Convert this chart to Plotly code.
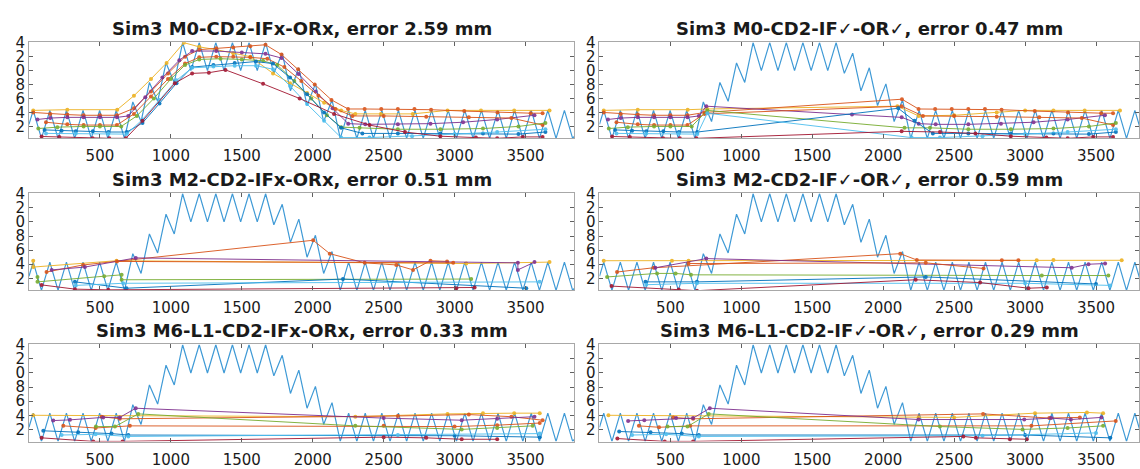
import plotly.graph_objects as go

# ---------------- data ----------------
TITLES = [
    "Sim3 M0-CD2-IFx-ORx, error 2.59 mm",
    "Sim3 M0-CD2-IF\u2713-OR\u2713, error 0.47 mm",
    "Sim3 M2-CD2-IFx-ORx, error 0.51 mm",
    "Sim3 M2-CD2-IF\u2713-OR\u2713, error 0.59 mm",
    "Sim3 M6-L1-CD2-IFx-ORx, error 0.33 mm",
    "Sim3 M6-L1-CD2-IF\u2713-OR\u2713, error 0.29 mm",
]
X_TICKS = [500, 1000, 1500, 2000, 2500, 3000, 3500]
Y_TICKS = [2, 4, 6, 8, 10, 12, 14]
Y_TICK_TEXT = ["2", "4", "6", "8", "0", "2", "4"]

# ground-truth zig-zag profile
GT_X = [0, 30, 88, 147, 205, 264, 322, 381, 439, 498, 556, 615, 673, 732, 790, 849, 907, 966,
        1024, 1083, 1141, 1200, 1258, 1317, 1375, 1434, 1492, 1551, 1609, 1668, 1726, 1785,
        1843, 1902, 1960, 2019, 2077, 2136, 2194, 2253, 2311, 2370, 2428, 2487, 2545, 2604,
        2662, 2721, 2779, 2838, 2896, 2955, 3013, 3072, 3130, 3189, 3247, 3306, 3364, 3423,
        3481, 3540, 3598, 3657, 3715, 3774, 3832, 3860]
GT_Y = [2.3, 4.3, 0.3, 4.3, 0.3, 4.3, 0.3, 4.3, 0.3, 4.3, 0.3, 4.3, 0.3, 5.5, 2.7, 8.3, 5.6, 11.1,
        8.3, 14.0, 10.0, 14.0, 10.0, 14.0, 10.0, 14.0, 10.0, 14.0, 10.0, 14.0, 9.6, 12.5,
        7.1, 10.4, 5.0, 8.1, 2.7, 5.8, 0.3, 4.3, 0.3, 4.3, 0.3, 4.3, 0.3, 4.3,
        0.3, 4.3, 0.3, 4.3, 0.3, 4.3, 0.3, 4.3, 0.3, 4.3, 0.3, 4.3, 0.3, 4.3,
        0.3, 4.3, 0.3, 4.3, 0.3, 4.3, 0.3, 1.0]

# track colours: yellow, orange, purple, orange, green, blue, light blue, dark red
TRACK_COLORS = ["#EDB120", "#D95319", "#7E2F8E", "#D95319", "#77AC30", "#0072BD", "#4DBEEE", "#A2142F"]

A_X = [
    [30, 270, 622, 740, 860, 970, 1092, 1200, 1320, 1440, 1560, 1720, 1840, 1960, 2080, 2200, 2300, 2480, 2705, 2950, 3186, 3420, 3669],
    [30, 150, 270, 385, 500, 620, 740, 860, 980, 1100, 1200, 1320, 1440, 1560, 1667, 1780, 1897, 2014, 2132, 2249, 2366, 2483, 2600, 2717, 2834, 3068, 3302, 3536, 3620],
    [60, 150, 270, 385, 500, 620, 700, 820, 940, 1060, 1150, 1320, 1500, 1667, 1780, 1900, 2020, 2140, 2250, 2370, 2600, 2830, 3060, 3300, 3563],
    [120, 270, 385, 500, 620, 740, 860, 980, 1100, 1200, 1320, 1440, 1560, 1680, 1800, 1920, 2040, 2160, 2280, 2500, 2800, 3100, 3400, 3620],
    [66, 200, 385, 500, 650, 760, 880, 1000, 1100, 1200, 1350, 1500, 1650, 1750, 1870, 1990, 2100, 2200, 2330, 2600, 2900, 3200, 3450, 3640],
    [110, 230, 330, 450, 560, 690, 800, 920, 1040, 1150, 1300, 1450, 1600, 1720, 1840, 1960, 2080, 2200, 2350, 2600, 2900, 3200, 3450, 3640],
    [120, 330, 560, 690, 800, 920, 1040, 1150, 1300, 1450, 1600, 1720, 1840, 1960, 2080, 2200, 2400, 2700, 3000, 3300, 3640],
    [89, 214, 448, 566, 683, 800, 1028, 1150, 1268, 1385, 1650, 1908, 2150, 2400, 2650, 2900, 3150, 3300, 3480, 3620],
]
A_Y = [
    [4.3, 4.4, 4.4, 6.4, 8.8, 11.1, 14.0, 13.4, 13.0, 12.5, 12.0, 9.6, 8.2, 6.8, 5.4, 4.3, 3.8, 3.8, 3.8, 4.3, 4.3, 4.3, 4.3],
    [4.0, 3.8, 3.7, 3.6, 3.6, 3.6, 4.6, 7.0, 9.6, 12.0, 13.0, 13.2, 13.3, 13.5, 13.7, 12.3, 10.2, 8.0, 5.8, 4.5, 4.5, 4.5, 4.5, 4.5, 4.4, 4.2, 4.0, 3.9, 3.9],
    [3.0, 3.2, 3.3, 3.3, 3.3, 3.3, 3.5, 6.2, 9.0, 11.5, 12.8, 12.8, 12.6, 12.4, 11.8, 9.5, 7.0, 4.6, 2.4, 2.3, 2.3, 2.4, 2.6, 3.0, 3.6],
    [2.6, 2.3, 2.2, 2.2, 2.2, 3.8, 6.3, 8.8, 11.0, 11.9, 12.0, 12.0, 11.9, 11.7, 10.5, 8.5, 6.4, 4.5, 3.5, 3.5, 3.4, 3.3, 3.2, 2.2],
    [1.7, 1.9, 2.0, 2.0, 2.0, 3.5, 6.0, 8.8, 10.8, 11.6, 11.7, 11.6, 11.4, 10.8, 8.5, 6.0, 3.6, 1.9, 1.8, 1.6, 1.6, 1.7, 2.0, 2.5],
    [1.5, 1.4, 1.3, 1.3, 1.2, 1.2, 2.5, 5.3, 8.2, 10.5, 10.8, 11.1, 11.3, 11.0, 9.0, 6.6, 4.0, 1.8, 1.0, 1.0, 1.0, 1.0, 0.9, 1.2],
    [1.0, 1.0, 1.0, 0.9, 3.0, 5.8, 8.6, 10.4, 10.6, 10.7, 10.7, 10.2, 7.8, 5.2, 2.8, 0.4, 0.4, 0.6, 0.9, 1.2, 1.6],
    [0.56, 0.47, 0.3, 0.3, 0.3, 2.8, 8.2, 9.6, 9.7, 10.1, 8.1, 6.0, 3.8, 2.2, 1.2, 0.6, 0.4, 0.3, 0.5, 0.5],
]

B_X = [
    [30, 270, 622, 760, 2100, 2250, 2500, 2800, 3000, 3200, 3420, 3669],
    [30, 150, 270, 385, 500, 620, 740, 2132, 2249, 2366, 2483, 2600, 2717, 2834, 3068, 3302, 3536, 3620],
    [60, 150, 270, 385, 500, 620, 700, 753, 1780, 2130, 2250, 2370, 2600, 2830, 3060, 3300, 3563],
    [120, 270, 385, 500, 620, 740, 2130, 2280, 2500, 2800, 3100, 3400, 3620],
    [66, 200, 385, 500, 650, 760, 2150, 2330, 2600, 2900, 3200, 3450, 3640],
    [110, 230, 330, 450, 560, 690, 2106, 2220, 2350, 2600, 2900, 3200, 3450, 3640],
    [120, 330, 560, 690, 760, 2200, 2400, 2700, 3000, 3300, 3640],
    [89, 214, 448, 566, 683, 2130, 2400, 2650, 2900, 3150, 3300, 3480, 3620],
]
B_Y = [
    [4.3, 4.4, 4.4, 4.5, 4.9, 3.5, 3.6, 4.0, 4.3, 4.3, 4.3, 4.3],
    [4.0, 3.8, 3.7, 3.6, 3.6, 3.6, 4.0, 5.9, 4.5, 4.5, 4.5, 4.5, 4.5, 4.4, 4.2, 4.0, 3.9, 3.9],
    [3.0, 3.2, 3.3, 3.3, 3.3, 3.3, 3.5, 4.9, 3.7, 3.3, 2.4, 2.3, 2.3, 2.4, 2.6, 3.0, 3.6],
    [2.6, 2.3, 2.2, 2.2, 2.2, 3.8, 4.9, 3.5, 3.5, 3.4, 3.3, 3.2, 2.2],
    [1.7, 1.9, 2.0, 2.0, 2.0, 4.3, 1.8, 1.8, 1.6, 1.6, 1.7, 2.0, 2.5],
    [1.5, 1.4, 1.3, 1.3, 1.2, 1.2, 4.6, 2.8, 1.0, 1.0, 1.0, 1.0, 0.9, 1.2],
    [1.0, 1.0, 1.0, 0.9, 3.9, 0.4, 0.4, 0.6, 0.9, 1.2, 1.6],
    [0.56, 0.47, 0.3, 0.3, 0.3, 1.3, 1.2, 1.0, 0.6, 0.4, 0.3, 0.5, 0.5],
]

C_X = [
    [30, 30, 617, 3082, 3669],
    [124, 382, 2003, 2120, 2366, 2589, 2707, 2830, 2947],
    [160, 394, 753, 3446, 3446, 3563],
    [620, 2990],
    [60, 60, 530, 653, 653, 3117],
    [324, 687, 2213, 3505],
    [330, 664, 3599],
    [89, 324, 559, 3012, 3141],
]
C_Y = [
    [4.5, 3.6, 4.5, 4.1, 4.3],
    [2.9, 3.9, 7.4, 5.5, 4.2, 3.9, 3.2, 4.5, 4.4],
    [3.2, 3.6, 4.9, 4.2, 3.2, 4.3],
    [4.4, 4.2],
    [2.2, 1.5, 2.3, 2.5, 1.8, 1.9],
    [1.5, 0.6, 1.9, 0.6],
    [1.0, 1.3, 1.5],
    [1.07, 0.47, 0.37, 0.6, 0.7],
]

D_X = [
    [30, 511, 628, 3082, 3200, 3681],
    [124, 382, 2120, 2237, 2836, 2953],
    [394, 753, 3329, 3447, 3564],
    [628, 2300, 2707],
    [54, 406, 537, 645, 3118, 3587],
    [324, 687, 2300, 3500],
    [330, 687, 3000, 3600],
    [85, 559, 687, 2229, 2683, 3024, 3153],
]
D_Y = [
    [4.5, 4.5, 4.5, 4.56, 4.6, 4.56],
    [2.9, 3.5, 5.5, 4.6, 4.56, 4.56],
    [3.5, 4.8, 3.5, 4.0, 4.1],
    [4.1, 4.2, 3.4],
    [2.2, 2.7, 2.7, 2.5, 2.4, 2.4],
    [1.5, 1.5, 2.2, 1.2],
    [1.1, 1.3, 1.3, 1.0],
    [0.9, 0.4, 0.25, 1.8, 1.4, 0.6, 0.7],
]

E_X = [
    [30, 2300, 2950, 3200, 3420, 3600],
    [512, 640, 2600, 3100, 3400, 3620],
    [171, 289, 523, 640, 753, 2500, 3050, 3300, 3563],
    [242, 470, 711, 2500, 3000, 3300, 3600],
    [472, 606, 770, 2300, 3050, 3300, 3550],
    [101, 347, 582, 700, 3000, 3600],
    [230, 470, 700, 2600, 3600],
    [89, 453, 660, 2500, 2800, 3050, 3300],
]
E_Y = [
    [4.0, 3.8, 4.2, 4.3, 4.3, 4.3],
    [3.8, 3.5, 3.9, 4.1, 3.8, 3.3],
    [3.25, 3.35, 3.7, 3.7, 5.0, 3.6, 3.3, 3.5, 3.8],
    [2.5, 2.2, 2.5, 2.5, 2.4, 2.6, 2.9],
    [2.4, 2.4, 4.2, 2.5, 2.0, 2.2, 2.5],
    [1.8, 1.6, 1.4, 1.2, 1.1, 0.9],
    [1.2, 1.3, 1.0, 1.2, 1.4],
    [0.8, 0.3, 0.3, 0.9, 0.8, 0.6, 0.6],
]

F_X = [
    [63, 2249, 2500, 3070, 3436, 3550],
    [520, 660, 2704, 3171, 3386],
    [202, 316, 540, 660, 778, 2249, 2994, 3184, 3323, 3538],
    [278, 420, 640, 3045, 3639],
    [480, 620, 770, 2400, 2982, 3300, 3550],
    [139, 360, 580, 700, 3000, 3601],
    [230, 470, 700, 2700, 3500],
    [126, 460, 660, 2565, 2653, 2893, 3012],
]
F_Y = [
    [4.0, 3.7, 3.7, 4.3, 4.4, 4.3],
    [3.7, 3.5, 4.2, 3.6, 3.7],
    [3.2, 3.3, 3.6, 3.6, 5.0, 3.4, 3.4, 3.6, 3.4, 3.7],
    [2.5, 2.3, 2.5, 2.5, 3.2],
    [2.4, 2.4, 4.2, 2.4, 2.0, 2.2, 2.5],
    [1.7, 1.6, 1.4, 1.2, 1.2, 0.8],
    [1.2, 1.3, 1.0, 1.1, 1.5],
    [0.7, 0.3, 0.3, 1.0, 0.8, 0.6, 0.6],
]

PANELS_X = [A_X, B_X, C_X, D_X, E_X, F_X]
PANELS_Y = [A_Y, B_Y, C_Y, D_Y, E_Y, F_Y]

# ---------------- layout geometry (pixels) ----------------
W, H = 1140, 469
COL_PX = [(29, 575), (600, 1140)]
COL_RANGE = [[0, 3845], [0, 3803]]
ROW_PX = [(35, 133), (189, 288), (343, 442)]
TITLE_PX = [21, 175, 329]
GT_COLOR = "#3f9ad6"
FONT = "DejaVu Sans"

fig = go.Figure()
layout = dict(
    width=W, height=H, margin=dict(l=0, r=0, t=0, b=0),
    paper_bgcolor="white", plot_bgcolor="white", showlegend=False,
    font=dict(family=FONT, color="#1a1a1a"),
)
annotations = []

for p in range(6):
    r, c = divmod(p, 2)
    n = p + 1
    xa = "x" if n == 1 else f"x{n}"
    ya = "y" if n == 1 else f"y{n}"
    xd = [COL_PX[c][0] / W, COL_PX[c][1] / W]
    yd = [1 - ROW_PX[r][1] / H, 1 - ROW_PX[r][0] / H]

    fig.add_trace(go.Scatter(x=GT_X, y=GT_Y, mode="lines", xaxis=xa, yaxis=ya,
                             line=dict(color=GT_COLOR, width=1.2), hoverinfo="skip"))
    for tx, ty, col in zip(PANELS_X[p], PANELS_Y[p], TRACK_COLORS):
        fig.add_trace(go.Scatter(x=tx, y=ty, mode="lines+markers", xaxis=xa, yaxis=ya,
                                 line=dict(color=col, width=1),
                                 marker=dict(color=col, size=4), opacity=0.9))

    axcommon = dict(showline=True, linecolor="#a8a8a8", linewidth=1, mirror="ticks",
                    ticks="inside", ticklen=4, tickcolor="#606060", showgrid=False,
                    zeroline=False, tickfont=dict(family=FONT, size=15, color="#1a1a1a"))
    layout["xaxis" if n == 1 else f"xaxis{n}"] = dict(
        domain=xd, range=COL_RANGE[c], tickvals=X_TICKS, anchor=ya,
        ticklabelstandoff=4, **axcommon)
    layout["yaxis" if n == 1 else f"yaxis{n}"] = dict(
        domain=yd, range=[0.28, 14.05], tickvals=Y_TICKS, ticktext=Y_TICK_TEXT,
        anchor=xa, **axcommon)

    annotations.append(dict(
        text=f"<b>{TITLES[p]}</b>", xref="paper", yref="paper",
        x=(xd[0] + xd[1]) / 2, y=1 - TITLE_PX[r] / H, xanchor="center", yanchor="middle",
        showarrow=False, font=dict(family=FONT, size=18, color="#1a1a1a")))

layout["annotations"] = annotations
fig.update_layout(**layout)

PIN = ("document.documentElement.style.margin='0';document.body.style.margin='0';"
       "var d=document.getElementById('{plot_id}');d.style.position='fixed';"
       "d.style.top='0px';d.style.left='0px';")
fig.write_html("out.html", post_script=PIN, config={"displayModeBar": False})
